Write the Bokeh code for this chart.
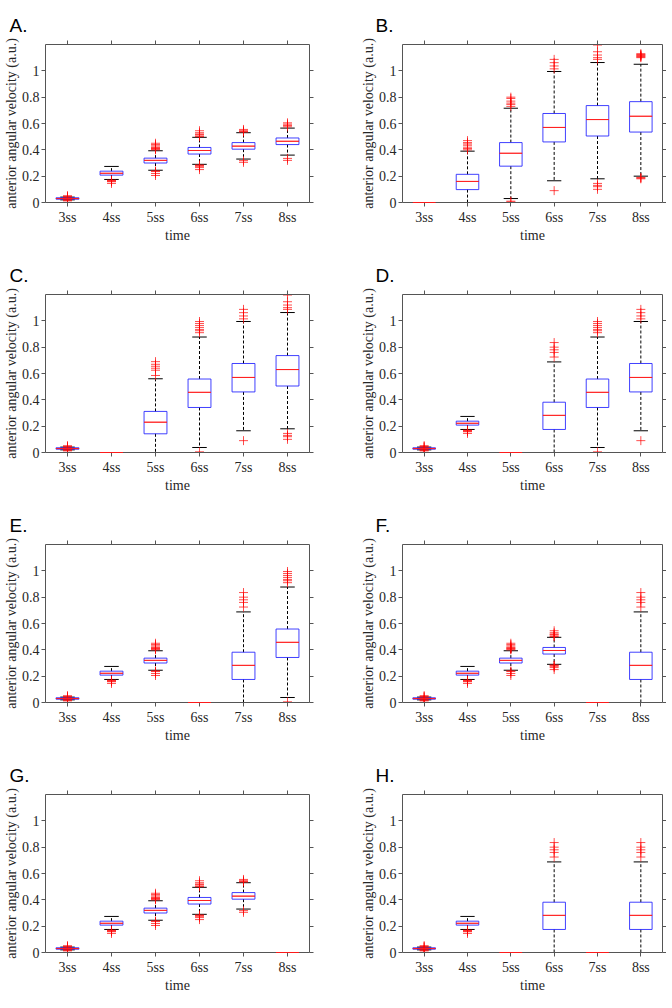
from bokeh.plotting import figure
from bokeh.models import FixedTicker, LinearAxis, Range1d, ColumnDataSource, CustomLabelingPolicy
from bokeh.layouts import column, row
from bokeh.embed import file_html
from bokeh.resources import INLINE

categories = ["3ss", "4ss", "5ss", "6ss", "7ss", "8ss"]
yticks = [0, 0.2, 0.4, 0.6, 0.8, 1]
ytick_labels = ["0", "0.2", "0.4", "0.6", "0.8", "1"]

# box statistics: [lower whisker, q1, median, q3, upper whisker]
S0 = [0.020, 0.025, 0.030, 0.036, 0.041]
S0_out = [0.012, 0.017, 0.022, 0.040, 0.045, 0.052]
S1 = [0.175, 0.208, 0.222, 0.238, 0.274]
S1_out = [0.145, 0.158, 0.162, 0.166, 0.170]
S2 = [0.245, 0.300, 0.320, 0.337, 0.393]
S2_out = [0.205, 0.220, 0.235, 0.240, 0.400, 0.405, 0.410, 0.415, 0.420, 0.430, 0.440, 0.450]
S3 = [0.290, 0.368, 0.395, 0.418, 0.495]
S3_out = [0.250, 0.265, 0.275, 0.280, 0.285, 0.500, 0.505, 0.515, 0.520, 0.530, 0.545]
S4 = [0.330, 0.405, 0.428, 0.455, 0.530]
S4_out = [0.305, 0.318, 0.535, 0.540, 0.545, 0.555]
S5 = [0.360, 0.440, 0.465, 0.490, 0.565]
S5_out = [0.320, 0.335, 0.575, 0.585, 0.595, 0.605]
B4 = [0.000, 0.098, 0.160, 0.214, 0.390]
B4_out = [0.400, 0.410, 0.420, 0.435, 0.445, 0.455, 0.470]
B5 = [0.030, 0.276, 0.374, 0.455, 0.716]
B5_out = [0.004, 0.010, 0.730, 0.745, 0.755, 0.770, 0.790, 0.800]
B8 = [0.200, 0.535, 0.655, 0.766, 1.050]
B8_out = [0.180, 0.185, 0.190, 1.100, 1.105, 1.110, 1.115, 1.120, 1.125, 1.130]
C5 = [0.000, 0.142, 0.230, 0.312, 0.560]
C5_out = [0.585, 0.625, 0.640, 0.655, 0.670, 0.690]
T1 = [0.000, 0.175, 0.282, 0.382, 0.688]
T1_out = [0.725, 0.760, 0.780, 0.800, 0.835]
T2 = [0.038, 0.342, 0.457, 0.558, 0.877]
T2_out = [0.005, 0.910, 0.925, 0.935, 0.950, 0.965, 0.980, 0.995]
T3 = [0.165, 0.460, 0.570, 0.676, 0.995]
T3_out = [0.090, 1.015, 1.037, 1.062, 1.087]
T4 = [0.180, 0.505, 0.630, 0.736, 1.063]
T4_out = [0.100, 0.120, 0.130, 0.145, 1.087, 1.100, 1.120, 1.145, 1.196]
EMPTY = [0.0, 0.0, 0.0, 0.0, 0.0]
EMPTY_out = []

STATS = {
    "S0": (S0, S0_out), "S1": (S1, S1_out), "S2": (S2, S2_out),
    "S3": (S3, S3_out), "S4": (S4, S4_out), "S5": (S5, S5_out),
    "B4": (B4, B4_out), "B5": (B5, B5_out), "B8": (B8, B8_out),
    "C5": (C5, C5_out), "T1": (T1, T1_out), "T2": (T2, T2_out),
    "T3": (T3, T3_out), "T4": (T4, T4_out), "EMPTY": (EMPTY, EMPTY_out),
}

panel_labels = ["A.", "B.", "C.", "D.", "E.", "F.", "G.", "H."]
panel_A = ["S0", "S1", "S2", "S3", "S4", "S5"]
panel_B = ["EMPTY", "B4", "B5", "T3", "T4", "B8"]
panel_C = ["S0", "EMPTY", "C5", "T2", "T3", "T4"]
panel_D = ["S0", "S1", "EMPTY", "T1", "T2", "T3"]
panel_E = ["S0", "S1", "S2", "EMPTY", "T1", "T2"]
panel_F = ["S0", "S1", "S2", "S3", "EMPTY", "T1"]
panel_G = ["S0", "S1", "S2", "S3", "S4", "EMPTY"]
panel_H = ["S0", "S1", "EMPTY", "T1", "EMPTY", "T1"]
panels = [panel_A, panel_B, panel_C, panel_D, panel_E, panel_F, panel_G, panel_H]

BOX_W = 0.52
CAP_W = 0.33
AX_COLOR = "#555555"
TXT_COLOR = "#262626"
SERIF = "Liberation Serif"

NO_LABELS = "const a = [...indices]; for (const i of a) indices.unset(i); return indices"


def style_axis(ax, show_labels=True):
    ax.axis_line_color = AX_COLOR
    ax.major_tick_line_color = AX_COLOR
    ax.minor_tick_line_color = None
    ax.major_tick_out = 4
    ax.major_tick_in = 0
    ax.major_label_text_font = SERIF
    ax.major_label_text_color = TXT_COLOR
    ax.axis_label_text_font = SERIF
    ax.axis_label_text_font_style = "normal"
    ax.axis_label_text_color = TXT_COLOR
    ax.axis_label_text_font_size = "14px"
    if show_labels:
        ax.major_label_text_font_size = "14px"
        ax.major_label_standoff = 2
    else:
        ax.major_label_text_font_size = "0px"
        ax.major_label_standoff = 0
        ax.major_label_policy = CustomLabelingPolicy(code=NO_LABELS)


def make_panel(idx):
    names = panels[idx]
    right_col = idx % 2 == 1
    last_row = idx >= 6
    p = figure(
        frame_width=260 if right_col else 264,
        frame_height=158,
        x_range=Range1d(0.5, 6.5),
        y_range=Range1d(0, 1.2),
        output_backend="svg",
        toolbar_location=None,
        min_border_left=38,
        min_border_right=0 if right_col else 48,
        min_border_top=44,
        min_border_bottom=40 if last_row else 48,
        title=panel_labels[idx],
    )
    p.title.text_font = "Liberation Sans"
    p.title.text_font_size = "19px"
    p.title.text_font_style = "normal"
    p.title.text_color = "black"
    p.title.align = "left"
    p.title.offset = -27 if right_col else -36
    p.outline_line_color = None
    p.xgrid.visible = False
    p.ygrid.visible = False

    xt = list(range(1, len(categories) + 1))
    p.xaxis.ticker = FixedTicker(ticks=xt)
    p.xaxis.major_label_overrides = {i: c for i, c in zip(xt, categories)}
    p.xaxis.axis_label = "time"
    p.yaxis.ticker = FixedTicker(ticks=yticks)
    p.yaxis.major_label_overrides = {t: l for t, l in zip(yticks, ytick_labels)}
    p.yaxis.axis_label = "anterior angular velocity (a.u.)"
    style_axis(p.xaxis[0])
    style_axis(p.yaxis[0])
    p.xaxis.axis_label_standoff = 0
    p.yaxis.axis_label_standoff = 0
    p.xaxis.major_label_standoff = 3

    top = LinearAxis(ticker=FixedTicker(ticks=xt))
    style_axis(top, show_labels=False)
    p.add_layout(top, "above")
    right = LinearAxis(ticker=FixedTicker(ticks=yticks))
    style_axis(right, show_labels=False)
    p.add_layout(right, "right")

    x, q1, med, q3 = [], [], [], []
    wx, wlo, wq1, wq3, whi = [], [], [], [], []
    ox, oy = [], []
    for i, n in enumerate(names):
        st, out = STATS[n]
        xi = xt[i]
        x.append(xi)
        q1.append(st[1]); med.append(st[2]); q3.append(st[3])
        if st[4] > st[0]:
            wx.append(xi); wlo.append(st[0]); wq1.append(st[1]); wq3.append(st[3]); whi.append(st[4])
        for o in out:
            ox.append(xi); oy.append(o)

    wsrc = ColumnDataSource(dict(x=wx, lo=wlo, q1=wq1, q3=wq3, hi=whi,
                                 cl=[v - CAP_W / 2 for v in wx], cr=[v + CAP_W / 2 for v in wx]))
    p.segment(x0="x", y0="q3", x1="x", y1="hi", source=wsrc, line_color="black",
              line_dash="3 2", line_width=1)
    p.segment(x0="x", y0="q1", x1="x", y1="lo", source=wsrc, line_color="black",
              line_dash="3 2", line_width=1)
    p.segment(x0="cl", y0="hi", x1="cr", y1="hi", source=wsrc, line_color="black", line_width=1)
    p.segment(x0="cl", y0="lo", x1="cr", y1="lo", source=wsrc, line_color="black", line_width=1)

    bsrc = ColumnDataSource(dict(x=x, q1=q1, med=med, q3=q3))
    p.vbar(x="x", width=BOX_W, top="q3", bottom="q1", source=bsrc, fill_color=None,
           line_color="#2020ff", line_alpha=0.85, line_width=1)
    p.vbar(x="x", width=BOX_W, top="med", bottom="med", source=bsrc, fill_color=None,
           line_color="#ff1a1a", line_alpha=0.85, line_width=1, level="overlay")

    p.scatter(x=ox, y=oy, marker="cross", size=9, line_color="red", line_alpha=0.7,
              line_width=1)
    return p


figs = [make_panel(i) for i in range(8)]
layout = column(
    row(figs[0], figs[1]),
    row(figs[2], figs[3]),
    row(figs[4], figs[5]),
    row(figs[6], figs[7]),
)

open("out.html", "w").write(file_html(layout, INLINE))
